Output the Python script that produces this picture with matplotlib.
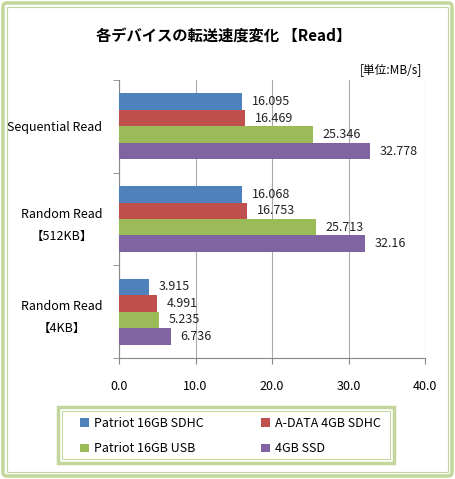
import matplotlib.pyplot as plt
import numpy as np
from matplotlib.patches import FancyBboxPatch, Rectangle

plt.rcParams['font.family'] = ['Noto Sans CJK JP', 'DejaVu Sans']

categories = ["Sequential Read", "Random Read\n【512KB】", "Random Read\n【4KB】"]
series_names = ["Patriot 16GB SDHC", "A-DATA 4GB SDHC", "Patriot 16GB USB", "4GB SSD"]
patriot_sdhc = [16.095, 16.068, 3.915]
adata_sdhc = [16.469, 16.753, 4.991]
patriot_usb = [25.346, 25.713, 5.235]
ssd = [32.778, 32.16, 6.736]
value_labels = [
    ["16.095", "16.068", "3.915"],
    ["16.469", "16.753", "4.991"],
    ["25.346", "25.713", "5.235"],
    ["32.778", "32.16", "6.736"],
]
colors = ["#4F81BD", "#C0504D", "#9BBB59", "#8064A2"]
xticks = [0, 10, 20, 30, 40]

W, H = 455, 479
fig = plt.figure(figsize=(W / 100, H / 100), dpi=100)
fig.patch.set_facecolor("white")

# outer double frame
green = "#C3D69B"
fig.patches.append(FancyBboxPatch((3 / W, 3 / H), 449 / W, 473 / H,
                                  boxstyle="round,pad=0,rounding_size=0.008",
                                  transform=fig.transFigure, fill=False,
                                  edgecolor=green, linewidth=2.5))
fig.patches.append(Rectangle((7 / W, 7 / H), 441 / W, 465 / H,
                             transform=fig.transFigure, fill=False,
                             edgecolor=green, linewidth=0.8))

ax = fig.add_axes([119 / W, 1 - 358 / H, 306 / W, 278 / H])
series = [patriot_sdhc, adata_sdhc, patriot_usb, ssd]
n = len(categories)
y = np.arange(n)
bar_h = 0.178
handles = []
for i, (vals, c, name) in enumerate(zip(series, colors, series_names)):
    pos = y + (i - 1.5) * bar_h
    b = ax.barh(pos, vals, height=bar_h, color=c, label=name, zorder=3)
    handles.append(b)
    for p, v, lab in zip(pos, vals, value_labels[i]):
        ax.annotate(lab, (v, p), xytext=(7, 0), textcoords="offset points",
                    va="center", ha="left", fontsize=9, color="#222222")

ax.set_ylim(n - 0.5, -0.5)
ax.set_xlim(0, 40)
ax.set_xticks(xticks)
ax.set_xticklabels([f"{t:.1f}" for t in xticks], fontsize=9)
ax.set_yticks(y)
ax.set_yticklabels(categories, fontsize=9, linespacing=1.9, multialignment="center")
ax.set_yticks(np.arange(n + 1) - 0.5, minor=True)
ax.tick_params(axis="y", which="major", length=0, pad=12)
ax.tick_params(axis="y", which="minor", length=4, color="#888888")
ax.tick_params(axis="x", length=4, color="#888888", pad=12)
ax.grid(axis="x", color="#AAAAAA", linewidth=0.8, zorder=0)
for s in ["top", "right"]:
    ax.spines[s].set_visible(False)
ax.spines["left"].set_color("#888888")
ax.spines["bottom"].set_color("#888888")

fig.text(224 / W, 1 - 37 / H, "各デバイスの転送速度変化 【Read】", ha="center", va="center",
         fontsize=11, fontweight="bold")
fig.text(422 / W, 1 - 70 / H, "[単位:MB/s]", ha="right", va="center", fontsize=8.5)

# legend box (double green frame)
fig.patches.append(Rectangle((58 / W, 1 - 463 / H), 336 / W, 56 / H,
                             transform=fig.transFigure, fill=False,
                             edgecolor=green, linewidth=2.5))
fig.patches.append(Rectangle((62 / W, 1 - 459 / H), 328 / W, 48 / H,
                             transform=fig.transFigure, fill=False,
                             edgecolor=green, linewidth=0.7))

order = [0, 2, 1, 3]
leg = fig.legend([handles[k] for k in order], [series_names[k] for k in order],
                 loc="center left", bbox_to_anchor=(80 / W, 1 - 436 / H), ncol=2,
                 fontsize=9, frameon=False, handlelength=0.7,
                 handleheight=0.7, columnspacing=4.6, labelspacing=1.0,
                 handletextpad=0.4, borderpad=0, borderaxespad=0)

fig.savefig("out.png", dpi=100)
